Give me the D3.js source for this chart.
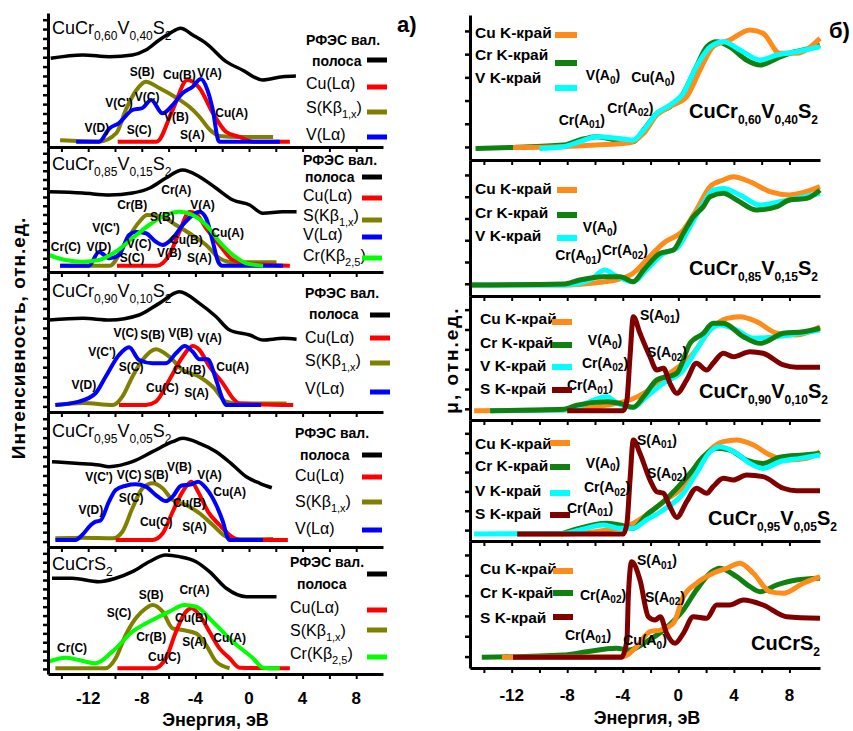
<!DOCTYPE html>
<html>
<head>
<meta charset="utf-8">
<script src="https://cdn.jsdelivr.net/npm/d3@7"></script>
<style>
  body { margin: 0; background: #fff; }
  svg { font-family: "Liberation Sans", Arial, sans-serif; }
</style>
</head>
<body>
<script>
// ---------- data: [energy eV, intensity in % of panel height] ----------
// left column (a): RFES valence band + emission bands
var L1_rfes = [[-14.8,66.2],[-12.4,68.7],[-10.4,67.4],[-8.7,68.7],[-7.7,72.4],[-6.7,79.9],[-5.9,84.9],[-5.1,88.6],[-4.2,83.6],[-3.2,77.4],[-1.7,63.7],[-0.5,57.5],[1.0,50],[2.5,52.5],[3.5,53]];
var L1_cu = [[-9.8,4],[-6.9,4],[-5.7,27.6],[-4.6,50],[-3.7,44],[-2.7,25.4],[-1.7,11.2],[-0.7,7.5],[0.3,4],[3.05,4]];
var L1_s = [[-14.1,5],[-11.2,4],[-9.9,10.4],[-9.2,27.6],[-8.4,42.5],[-7.7,48.7],[-6.7,44],[-5.4,36.6],[-4.45,30],[-3.7,22.6],[-2.9,12.7],[-2.2,8.2],[-0.75,7.5],[1.8,7.5]];
var L1_v = [[-12.9,4],[-11.2,4],[-10.4,14],[-9.7,17.9],[-8.7,27.6],[-7.95,29.1],[-7.3,35.1],[-6.45,25.1],[-5.7,31.3],[-4.95,40.3],[-4.2,45],[-3.6,50.7],[-3.1,42.5],[-2.7,27.6],[-2.3,5.2],[-2.2,4],[2.3,4]];

var L2_rfes = [[-14.9,64.2],[-12.4,63.2],[-10.4,61.6],[-8.7,63.2],[-7.4,67.2],[-6.2,75.2],[-4.95,81.6],[-3.7,76.2],[-2.45,67],[-1.2,57.6],[0.05,53.6],[1.03,47],[2.5,48.2],[3.55,48.2]];
var L2_cu = [[-9.85,5],[-6.9,5],[-5.95,13.6],[-5.2,32],[-4.45,48],[-4.0,47],[-3.2,35],[-2.2,21.6],[-1.2,9.6],[-0.2,7],[3.05,5]];
var L2_s = [[-14.1,5],[-10.4,5],[-9.2,24],[-8.2,40],[-7.6,45.6],[-6.45,44],[-5.45,37.6],[-4.45,31],[-3.2,21.6],[-2.2,11],[-1.2,7.8],[2.05,7.8]];
var L2_v = [[-14.1,5],[-11.95,5],[-11.2,16],[-10.4,11],[-9.7,13.6],[-8.95,29.6],[-8.45,32],[-7.7,31],[-6.95,24.2],[-6.45,21.6],[-5.7,27],[-4.95,37.6],[-4.2,45.6],[-3.7,48.2],[-3.2,43],[-2.7,24.2],[-2.3,8.2],[-2.0,5],[2.55,5]];
var L2_cr = [[-14.95,13.6],[-13.7,9.6],[-12.4,8.2],[-11.2,9.6],[-9.95,16.2],[-8.7,27],[-7.45,37.6],[-6.2,45.6],[-5.2,48.2],[-4.2,45.6],[-3.2,37.6],[-2.2,24.2],[-1.2,13.6],[-0.2,7],[1.05,5]];

var L3_rfes = [[-14.95,65.7],[-12.4,66.9],[-10.4,65.7],[-8.2,69.3],[-6.7,77.6],[-5.2,85.9],[-3.7,77.6],[-2.45,68],[-1.45,58.6],[0.05,55],[1.05,51.4],[2.55,52.6],[3.55,52]];
var L3_cu = [[-9.7,5],[-7.7,5],[-6.95,7.4],[-5.95,22.9],[-4.95,39.5],[-4.2,47.1],[-3.7,44.3],[-2.95,32.4],[-1.95,20.5],[-1.2,9.8],[-0.7,6],[3.3,5]];
var L3_s = [[-14.45,5],[-12.4,6.5],[-10.15,5],[-9.45,11],[-8.7,25.2],[-7.95,37.1],[-6.95,44.8],[-5.95,39.5],[-4.95,30],[-3.7,25.2],[-2.7,18],[-1.7,7.4],[-0.7,6],[2.8,6]];
var L3_v = [[-14.45,5],[-12.7,7.4],[-11.45,13.4],[-10.7,25.2],[-9.7,40.7],[-8.95,46.2],[-8.2,37.1],[-7.2,34.8],[-6.2,34.8],[-5.45,41.9],[-4.8,47.1],[-4.2,43],[-3.7,37.6],[-3.1,37.6],[-2.45,22.9],[-1.95,8.6],[-1.7,5],[0.9,5]];

var L4_rfes = [[-14.7,63.2],[-12.95,62],[-11.2,60.7],[-10.45,59.5],[-8.7,63.2],[-7.2,70.6],[-5.7,78],[-4.95,80.5],[-3.7,76.8],[-2.45,70.6],[-1.2,60.7],[-0.2,52],[0.8,47.2],[1.7,43.9]];
var L4_cu = [[-9.95,5.2],[-7.2,5.2],[-6.45,10],[-5.7,26],[-4.95,41],[-4.3,48.4],[-3.8,41],[-3.05,26],[-2.2,16.3],[-1.45,8.9],[-0.7,5.2],[2.9,5.2]];
var L4_s = [[-14.45,6.4],[-12.4,6.8],[-10.15,6.4],[-9.45,11.3],[-8.7,28.7],[-7.95,43.5],[-7.2,47.2],[-6.45,43.5],[-5.7,34.8],[-4.7,31.1],[-3.7,25],[-2.7,16.3],[-1.7,7.6],[-0.7,5.7],[1.8,6]];
var L4_v = [[-14.45,5.2],[-12.95,5.2],[-12.45,8.9],[-11.8,16.3],[-11.45,18.8],[-11.1,19.5],[-10.45,33.6],[-9.95,42.2],[-9.2,45.4],[-8.45,46.4],[-7.7,44.7],[-6.95,38.5],[-6.2,34],[-5.7,37.3],[-5.07,45.4],[-4.3,46.4],[-3.8,48.4],[-3.2,43.5],[-2.45,31.1],[-1.95,18.8],[-1.57,6.4],[-1.45,5.2],[1.05,5.2]];

var L5_rfes = [[-14.7,75.4],[-13.2,75.4],[-11.2,72.7],[-9.95,75.4],[-8.7,80.6],[-7.45,88.4],[-6.2,93.7],[-5.2,92.4],[-3.95,88.4],[-2.95,80.6],[-1.7,67.5],[-0.2,60.9],[2.05,60.9]];
var L5_cu = [[-9.82,4.5],[-7.07,4.5],[-6.2,12.4],[-5.45,33.3],[-4.7,49.1],[-4.3,51.7],[-3.7,46.5],[-2.95,33.3],[-2.2,20.2],[-1.45,12.4],[-0.7,5],[3.05,4.5]];
var L5_s = [[-14.45,4.5],[-10.7,4.5],[-9.95,12.4],[-9.2,30.7],[-8.45,43.9],[-7.7,51.7],[-7.2,54.3],[-6.45,49.1],[-5.7,36],[-4.95,34.6],[-3.95,32],[-3.2,22.8],[-2.45,9.7],[-1.45,4.5]];
var L5_cr = [[-14.95,9.7],[-13.7,12.8],[-12.7,11],[-11.45,8.4],[-10.2,17.6],[-8.7,33.3],[-7.2,42.5],[-5.95,49.1],[-4.82,54.3],[-3.95,53],[-2.7,41.2],[-1.2,25.4],[0.3,12.4],[1.05,5],[2.3,4.5]];

// right column (b): K-edge absorption spectra
var R1_cr = [[-14.6,8],[-11.9,8.7],[-8.3,10.3],[-7.1,13.8],[-5.9,16.1],[-4.45,13.8],[-3.25,12.6],[-2.5,20.7],[-1.55,32.2],[-0.6,36.8],[0.36,46],[1.3,64.4],[2.05,78.1],[2.75,81.6],[3.7,78.1],[4.9,69],[5.9,65.5],[7.1,70.1],[8.0,73.6],[9.0,75.9],[10.2,79.3]];
var R1_cu = [[-11.9,8.7],[-8.3,9.2],[-5.9,10.3],[-3.5,11.9],[-2.5,18.4],[-1.55,31],[-0.6,36.8],[0.6,43.7],[1.56,62],[2.5,78.1],[3.7,82.8],[5.16,89.7],[6.1,87.4],[7.3,73.6],[8.5,73.6],[10.2,83.9]];
var R1_v = [[-10,8],[-8.3,9.2],[-7.1,12.6],[-5.9,16.1],[-4.45,15],[-3.25,13.8],[-2.5,20.7],[-1.55,32.2],[-0.6,37.9],[0.36,46],[1.3,64.4],[2.3,78.1],[3.24,81.6],[4.44,75.9],[5.9,69],[7.1,72.4],[8.5,74.7],[10.2,78.1]];

var R2_cu = [[-14.9,8.1],[-8.3,8.1],[-5.9,9.8],[-4.45,11.8],[-3.25,16.7],[-2.3,26.5],[-1.07,38.8],[0.36,48.5],[1.3,63.2],[2.28,80.4],[3.24,85.3],[3.96,87.7],[5.16,84],[6.6,76.7],[8.0,74.3],[10.2,80.4]];
var R2_v = [[-14.9,8.1],[-8.3,8.1],[-6.35,11.8],[-5.3,19.1],[-4.6,15.4],[-3.25,10.5],[-2.3,19.1],[-1.07,31.4],[-0.1,35.1],[0.84,51],[1.8,68.2],[2.5,77.9],[3.24,79.1],[4.44,74.3],[5.88,66.9],[7.3,69.3],[8.5,71.8],[10.2,75.5]];
var R2_cr = [[-14.9,8.1],[-8.3,8.8],[-7.1,11.8],[-5.4,14.2],[-4.2,14.2],[-3.25,10.5],[-2.5,19.1],[-1.3,31.4],[-0.36,33.8],[0.36,46.1],[1.08,58.3],[1.8,65.7],[2.28,73],[3.24,75.5],[4.2,70.6],[5.64,63.2],[7.1,65.7],[8.0,70.6],[9.24,71.8],[10.2,77.9]];

var R3_cu = [[-14.7,7.5],[-8.3,8],[-5.15,12],[-3.5,16.1],[-2.5,21.5],[-1.3,32.3],[-0.12,41.7],[1.08,53.8],[2.28,72.6],[3.5,82],[4.44,83.3],[5.64,79.3],[7.1,69.9],[8.5,68.5],[10.2,75.2]];
var R3_v = [[-13.55,7.5],[-8.3,8],[-7.3,10.7],[-5.15,18.8],[-4.45,14],[-3.25,10.2],[-2.3,18.8],[-1.07,29.6],[0.36,40.3],[1.3,56.5],[2.28,72.6],[3.0,76.6],[4.2,72.6],[5.4,65.9],[7.1,67.2],[8.76,69.9],[10.2,72.6]];
var R3_cr = [[-13.55,7.5],[-8.3,8.6],[-7.3,12],[-5.15,14.8],[-4.2,13.4],[-3.25,10.2],[-2.5,18.8],[-1.55,32.3],[-0.12,37.6],[0.84,61.8],[1.8,69.9],[2.5,78],[3.24,78],[4.68,67.2],[5.88,61.8],[7.56,69.9],[9.0,71.2],[10.2,74]];
var R3_s = [[-8,7.5],[-3.96,7.5],[-3.7,16.1],[-3.48,51],[-3.24,83.3],[-2.76,69.9],[-2.04,51],[-1.55,40.3],[-1.07,41.7],[-0.6,29.6],[-0.12,21.5],[0.6,32.3],[1.3,45.7],[2.04,40.3],[2.5,45.7],[3.24,53.8],[3.96,51],[5.16,55.1],[6.1,53.8],[7.56,44.4],[8.5,42.5],[10.2,42.5]];

var R4_cu = [[-11.6,5.8],[-8.3,5.8],[-5.15,9.1],[-3.5,13.2],[-2.3,21.5],[-1.07,32.5],[0.36,44.9],[1.3,58.7],[2.28,75.2],[3.24,82.1],[4.2,83.5],[5.4,79.3],[6.6,71.1],[8.0,66.9],[9.24,68.3],[10.2,73.8]];
var R4_cr = [[-8.3,6.3],[-7.3,9.9],[-5.15,14.6],[-4.2,13.2],[-3.25,10.5],[-2.3,21.5],[-1.07,32.5],[0.84,55.9],[1.8,69.7],[2.76,76.6],[3.7,75.2],[4.9,66.9],[6.1,64.1],[7.3,69.2],[9.0,71.1],[10.2,72.4]];
var R4_v = [[-14.7,5.8],[-8.3,6.3],[-7.1,9.1],[-5.4,13.2],[-4.2,10.5],[-3.25,10.5],[-2.3,17.4],[-1.07,25.6],[0.36,39.4],[1.3,55.9],[2.28,73.8],[3.0,77.9],[4.2,72.4],[5.16,64.1],[6.1,60],[7.3,65.5],[8.76,68.3],[10.2,71.1]];
var R4_s = [[-11.6,5.8],[-3.96,5.8],[-3.7,14.6],[-3.48,50.4],[-3.24,83.5],[-2.76,72.4],[-2.04,50.4],[-1.55,40.7],[-1.07,39.4],[-0.6,28.3],[-0.12,19.5],[0.6,32.5],[1.3,43.6],[2.04,39.4],[2.5,44.9],[3.24,51.8],[3.96,50.4],[4.92,54.5],[6.1,53.2],[7.56,43.6],[8.5,41.6],[10.2,41.6]];

var R5_cr = [[-14.15,8.4],[-8.3,10.2],[-6.6,12.8],[-4.45,15.5],[-3.5,14.2],[-2.3,20.7],[-1.07,29.9],[0.36,45.7],[1.3,61.4],[2.28,74.6],[3.0,78.5],[4.2,71.9],[5.16,64],[5.88,60.1],[7.1,65.4],[8.5,69.3],[10.2,70.6]];
var R5_cu = [[-12.7,8.4],[-3.96,8.9],[-3.0,16.8],[-2.04,28.6],[-1.3,29.9],[-0.36,35.2],[0.36,56.1],[1.3,66.7],[2.5,74.6],[3.48,78.5],[4.44,82.4],[5.4,74.6],[6.6,60.1],[7.56,58.8],[9.0,66.7],[10.2,71.9]];
var R5_s = [[-11.9,8.4],[-4.1,8.4],[-3.7,22],[-3.6,56.1],[-3.36,83.7],[-2.76,69.3],[-2.16,40.4],[-1.67,37.8],[-1.3,40.4],[-0.84,27.3],[-0.24,19.4],[0.36,27.3],[1.08,40.4],[2.04,39.1],[2.76,49.6],[3.7,49.6],[4.68,53.5],[6.1,49.6],[7.8,40.4],[10.2,39.1]];

// peak annotations: [text, energy, intensity]
var L1_labels = [["S(B)",-7.97,56],["Cu(B)",-5.2,53.7],["V(A)",-2.95,55.2],["V(C')",-9.7,32.8],["V(C)",-7.6,37.3],["V(B)",-5.42,22.4],["Cu(A)",-1.3,25.4],["V(D)",-11.35,14.2],["S(C)",-8.2,12.7],["S(A)",-4.22,9]];
var L2_labels = [["Cr(A)",-5.43,65.6],["Cr(B)",-8.72,53.6],["S(B)",-6.47,44],["V(A)",-3.47,53.6],["V(C')",-10.67,35.2],["Cu(A)",-1.6,31.2],["Cr(C)",-13.67,20],["V(D)",-11.2,20],["V(C)",-8.2,22.4],["Cu(B)",-4.67,25.6],["V(B)",-5.95,15.2],["S(C)",-8.72,11.2],["S(A)",-3.7,11.2]];
var L3_labels = [["V(C)",-9.2,56.4],["S(B)",-7.2,55],["V(B)",-5.1,56.4],["V(A)",-2.95,52.9],["V(C')",-10.97,42.9],["S(C)",-8.8,32.1],["Cu(B)",-4.45,30],["Cu(A)",-1.22,32.1],["V(D)",-12.32,19.3],["Cu(C)",-6.47,17.1],["S(A)",-3.92,13.6]];
var L4_labels = [["V(C')",-11.2,51.9],["V(C)",-8.95,53.3],["S(B)",-6.92,53.3],["V(B)",-5.2,59.3],["V(A)",-2.95,53.3],["Cu(A)",-1.45,40.7],["S(C)",-8.8,36.3],["Cu(B)",-4.45,32.6],["V(D)",-11.8,27.4],["Cu(C)",-6.92,18.5],["S(A)",-4.07,14.8]];
var L5_labels = [["S(B)",-7.3,62.2],["Cr(A)",-4.07,66.1],["S(C)",-9.7,48],["Cu(B)",-4.3,44.1],["Cr(B)",-7.3,29.1],["S(A)",-4.07,25.2],["Cu(A)",-1.45,28.3],["Cr(C)",-13.2,20.5],["Cu(C)",-6.32,13.4]];

var R1_labels = [["V(A_{0})",-5.42,58.6],["Cu(A_{0})",-1.82,57.2],["Cr(A_{01})",-6.95,27.6],["Cr(A_{02})",-3.45,35.9]];
var R2_labels = [["V(A_{0})",-5.64,50.7],["Cr(A_{01})",-7.2,30.1],["Cr(A_{02})",-3.85,33.8]];
var R3_labels = [["S(A_{01})",-1.32,84.7],["V(A_{0})",-5.28,64.5],["S(A_{02})",-0.81,54.8],["Cr(A_{02})",-5.28,46],["Cr(A_{01})",-6.36,28.2]];
var R4_labels = [["S(A_{01})",-1.54,83.5],["V(A_{0})",-5.42,64.5],["S(A_{02})",-0.81,56.2],["Cr(A_{02})",-5.13,44.6],["Cr(A_{01})",-6.36,27.3]];
var R5_labels = [["S(A_{01})",-1.54,85],["Cr(A_{02})",-5.42,57.5],["S(A_{02})",-0.96,55.9],["Cr(A_{01})",-6.5,26],["Cu(A_{0})",-2.4,22]];

var xTickLabels = [-12, -8, -4, 0, 4, 8];

// ---------- colours ----------
var cBlack = "#000000", cRed = "#ff0000", cOlive = "#808000", cBlue = "#0000ff", cLime = "#00ff00";
var cOrange = "#ff8c1a", cGreen = "#108010", cCyan = "#00ffff", cMaroon = "#800000";

// ---------- layout ----------
var width = 853, height = 731;
var svg = d3.select("body").append("svg")
    .attr("width", width)
    .attr("height", height);

var xL = d3.scaleLinear().domain([-15, 10]).range([48, 383]);
var xR = d3.scaleLinear().domain([-15, 10.2]).range([470, 820]);

var leftPanels = [
    {top: 13, bottom: 147, title: "CuCr_{0,60}V_{0,40}S_{2}", titleY: 34,
     series: [[L1_rfes, cBlack, 3.5], [L1_s, cOlive, 4], [L1_cu, cRed, 4], [L1_v, cBlue, 4]],
     labels: L1_labels,
     legX: 306, legLine: [367, 387],
     legend: [["РФЭС вал.", null, 45], ["полоса", cBlack, 66, 60, 6], ["Cu(Lα)", cRed, 89, 87], ["S(Kβ_{1,x})", cOlive, 113, 112], ["V(Lα)", cBlue, 140, 137]]},
    {top: 147, bottom: 272, title: "CuCr_{0,85}V_{0,15}S_{2}", titleY: 170,
     series: [[L2_rfes, cBlack, 3.5], [L2_s, cOlive, 4], [L2_cu, cRed, 4], [L2_v, cBlue, 4], [L2_cr, cLime, 4]],
     labels: L2_labels,
     legX: 303, legLine: [362, 382],
     legend: [["РФЭС вал.", null, 165], ["полоса", cBlack, 182, 177, 2], ["Cu(Lα)", cRed, 201, 198], ["S(Kβ_{1,x})", cOlive, 221, 220], ["V(Lα)", cBlue, 240, 237], ["Cr(Kβ_{2,5})", cLime, 261, 258]]},
    {top: 272, bottom: 412, title: "CuCr_{0,90}V_{0,10}S_{2}", titleY: 297,
     series: [[L3_rfes, cBlack, 3.5], [L3_s, cOlive, 4], [L3_cu, cRed, 4], [L3_v, cBlue, 4]],
     labels: L3_labels,
     legX: 305, legLine: [370, 390],
     legend: [["РФЭС вал.", null, 298], ["полоса", cBlack, 319, 315, 4], ["Cu(Lα)", cRed, 343, 338], ["S(Kβ_{1,x})", cOlive, 366, 363], ["V(Lα)", cBlue, 394, 392]]},
    {top: 412, bottom: 547, title: "CuCr_{0,95}V_{0,05}S_{2}", titleY: 437,
     series: [[L4_rfes, cBlack, 3.5], [L4_s, cOlive, 4], [L4_cu, cRed, 4], [L4_v, cBlue, 4]],
     labels: L4_labels,
     legX: 295, legLine: [362, 382],
     legend: [["РФЭС вал.", null, 438], ["полоса", cBlack, 460, 455, 5], ["Cu(Lα)", cRed, 481, 477], ["S(Kβ_{1,x})", cOlive, 507, 502], ["V(Lα)", cBlue, 534, 530]]},
    {top: 547, bottom: 674, title: "CuCrS_{2}", titleY: 570,
     series: [[L5_rfes, cBlack, 3.5], [L5_s, cOlive, 4], [L5_cu, cRed, 4], [L5_cr, cLime, 4]],
     labels: L5_labels,
     legX: 290, legLine: [367, 387],
     legend: [["РФЭС вал.", null, 567], ["полоса", cBlack, 589, 574, 7], ["Cu(Lα)", cRed, 613, 610], ["S(Kβ_{1,x})", cOlive, 636, 630], ["Cr(Kβ_{2,5})", cLime, 659, 657]]}
];

var rightPanels = [
    {top: 15, bottom: 160, title: "CuCr_{0,60}V_{0,40}S_{2}", titleX: 818, titleY: 118,
     series: [[R1_cr, cGreen], [R1_cu, cOrange], [R1_v, cCyan]],
     labels: R1_labels, legX: 475, legLine: [555, 577],
     legend: [["Cu K-край", cOrange, 38, 35], ["Cr K-край", cGreen, 60, 63], ["V K-край", cCyan, 83, 88]]},
    {top: 160, bottom: 296, title: "CuCr_{0,85}V_{0,15}S_{2}", titleX: 818, titleY: 275,
     series: [[R2_cu, cOrange], [R2_v, cCyan], [R2_cr, cGreen]],
     labels: R2_labels, legX: 475, legLine: [557, 577],
     legend: [["Cu K-край", cOrange, 194, 190], ["Cr K-край", cGreen, 218, 215], ["V K-край", cCyan, 241, 238]]},
    {top: 296, bottom: 420, title: "CuCr_{0,90}V_{0,10}S_{2}", titleX: 828, titleY: 398,
     series: [[R3_cu, cOrange], [R3_v, cCyan], [R3_cr, cGreen], [R3_s, cMaroon]],
     labels: R3_labels, legX: 480, legLine: [552, 572],
     legend: [["Cu K-край", cOrange, 324, 322], ["Cr K-край", cGreen, 348, 345], ["V K-край", cCyan, 371, 367], ["S K-край", cMaroon, 394, 390]]},
    {top: 420, bottom: 541, title: "CuCr_{0,95}V_{0,05}S_{2}", titleX: 837, titleY: 525,
     series: [[R4_cu, cOrange], [R4_cr, cGreen], [R4_v, cCyan], [R4_s, cMaroon]],
     labels: R4_labels, legX: 475, legLine: [550, 570],
     legend: [["Cu K-край", cOrange, 449, 443], ["Cr K-край", cGreen, 471, 467], ["V K-край", cCyan, 496, 493], ["S K-край", cMaroon, 519, 515]]},
    {top: 541, bottom: 668, title: "CuCrS_{2}", titleX: 820, titleY: 650,
     series: [[R5_cr, cGreen], [R5_cu, cOrange], [R5_s, cMaroon]],
     labels: R5_labels, legX: 480, legLine: [553, 573],
     legend: [["Cu K-край", cOrange, 574, 571], ["Cr K-край", cGreen, 598, 593], ["S K-край", cMaroon, 623, 617]]}
];

// write "a_{b}" strings as text with lowered subscripts
function richText(sel, str, size, subSize) {
    var parts = str.split(/_\{([^}]*)\}/);
    var off = size * 0.32;
    var down = false;
    parts.forEach(function(p, i) {
        var sub = i % 2 === 1;
        if (!p) return;
        var t = sel.append("tspan").text(p);
        if (sub) {
            t.attr("font-size", subSize);
            if (!down) { t.attr("dy", off); down = true; }
        } else if (down) {
            t.attr("dy", -off);
            down = false;
        }
    });
    return sel;
}

function drawPanel(p, x, i, n, opts) {
    var y = d3.scaleLinear().domain([0, 100]).range([p.bottom, p.top]);
    var g = svg.append("g");

    // curves
    var line = d3.line()
        .x(function(d) { return x(d[0]); })
        .y(function(d) { return y(d[1]); })
        .curve(d3.curveMonotoneX);
    p.series.forEach(function(s) {
        g.append("path")
            .datum(s[0])
            .attr("d", line)
            .attr("fill", "none")
            .attr("stroke", s[1])
            .attr("stroke-width", s[2] || opts.lw)
            .attr("stroke-linejoin", "round");
    });

    // bottom axis
    var xAxis = d3.axisBottom(x)
        .tickValues(d3.range(-14, 10, 2))
        .tickSize(5)
        .tickSizeOuter(0)
        .tickFormat("");
    var ax = g.append("g")
        .attr("transform", "translate(0," + p.bottom + ")")
        .call(xAxis);
    ax.select(".domain").attr("stroke-width", 3);
    ax.selectAll(".tick line").attr("stroke-width", 2);

    if (i === n - 1) {
        g.selectAll(".xlab")
            .data(xTickLabels)
            .enter()
            .append("text")
            .attr("x", function(d) { return x(d); })
            .attr("y", opts.tickY)
            .attr("text-anchor", "middle")
            .attr("font-size", 17)
            .attr("font-weight", "bold")
            .text(function(d) { return d < 0 ? "-" + Math.abs(d) : d; });
    }

    // left axis
    var yAxis = d3.axisLeft(y)
        .tickValues(opts.yTicks)
        .tickSize(5)
        .tickSizeOuter(0)
        .tickFormat("");
    var ay = g.append("g")
        .attr("transform", "translate(" + x.range()[0] + ",0)")
        .call(yAxis);
    ay.select(".domain").attr("stroke-width", 3);
    ay.selectAll(".tick line").attr("stroke-width", 2.5);

    // peak labels
    p.labels.forEach(function(l) {
        var t = g.append("text")
            .attr("x", x(l[1]))
            .attr("y", y(l[2]))
            .attr("text-anchor", "middle")
            .attr("dominant-baseline", "central")
            .attr("font-size", opts.labSize)
            .attr("font-weight", "bold");
        richText(t, l[0], opts.labSize, opts.labSize * 0.72);
    });

    // legend
    p.legend.forEach(function(r) {
        var heavy = r[1] === null || r[1] === cBlack || opts.boldLegend;
        var t = g.append("text")
            .attr("x", p.legX + (r[4] || 0))
            .attr("y", r[2])
            .attr("font-size", heavy ? opts.legSize : 16)
            .attr("font-weight", heavy ? "bold" : "normal");
        richText(t, r[0], 16, 11);
        if (r[1]) {
            g.append("line")
                .attr("x1", p.legLine[0]).attr("x2", p.legLine[1])
                .attr("y1", r[3]).attr("y2", r[3])
                .attr("stroke", r[1])
                .attr("stroke-width", opts.legW);
        }
    });
}

leftPanels.forEach(function(p, i) {
    drawPanel(p, xL, i, leftPanels.length,
        {lw: 4, tickY: 704, yTicks: d3.range(4, 101, 7), labSize: 12, legW: 5, legSize: 14, boldLegend: false});
    var t = svg.append("text")
        .attr("x", 52)
        .attr("y", p.titleY)
        .attr("font-size", 18);
    richText(t, p.title, 18, 12);
});

rightPanels.forEach(function(p, i) {
    drawPanel(p, xR, i, rightPanels.length,
        {lw: 5, tickY: 701, yTicks: d3.range(9, 101, 16), labSize: 14, legW: 6, legSize: 15.5, boldLegend: true});
    var t = svg.append("text")
        .attr("x", p.titleX)
        .attr("y", p.titleY)
        .attr("text-anchor", "end")
        .attr("font-size", 20)
        .attr("font-weight", "bold");
    richText(t, p.title, 20, 12);
});

// axis titles and panel tags
svg.append("text")
    .attr("x", (xL(-15) + xL(10)) / 2)
    .attr("y", 726)
    .attr("text-anchor", "middle")
    .attr("font-size", 18)
    .attr("font-weight", "bold")
    .text("Энергия, эВ");

svg.append("text")
    .attr("x", 647)
    .attr("y", 724)
    .attr("text-anchor", "middle")
    .attr("font-size", 18)
    .attr("font-weight", "bold")
    .text("Энергия, эВ");

svg.append("text")
    .attr("transform", "translate(25,338) rotate(-90)")
    .attr("text-anchor", "middle")
    .attr("font-size", 19)
    .attr("font-weight", "bold")
    .attr("letter-spacing", 1)
    .text("Интенсивность, отн.ед.");

svg.append("text")
    .attr("transform", "translate(458,360) rotate(-90)")
    .attr("text-anchor", "middle")
    .attr("font-size", 19)
    .attr("font-weight", "bold")
    .attr("letter-spacing", 2)
    .text("μ, отн.ед.");

svg.append("text")
    .attr("x", 397).attr("y", 32)
    .attr("font-size", 22).attr("font-weight", "bold")
    .text("а)");

svg.append("text")
    .attr("x", 829).attr("y", 38)
    .attr("font-size", 22).attr("font-weight", "bold")
    .text("б)");
</script>
</body>
</html>
